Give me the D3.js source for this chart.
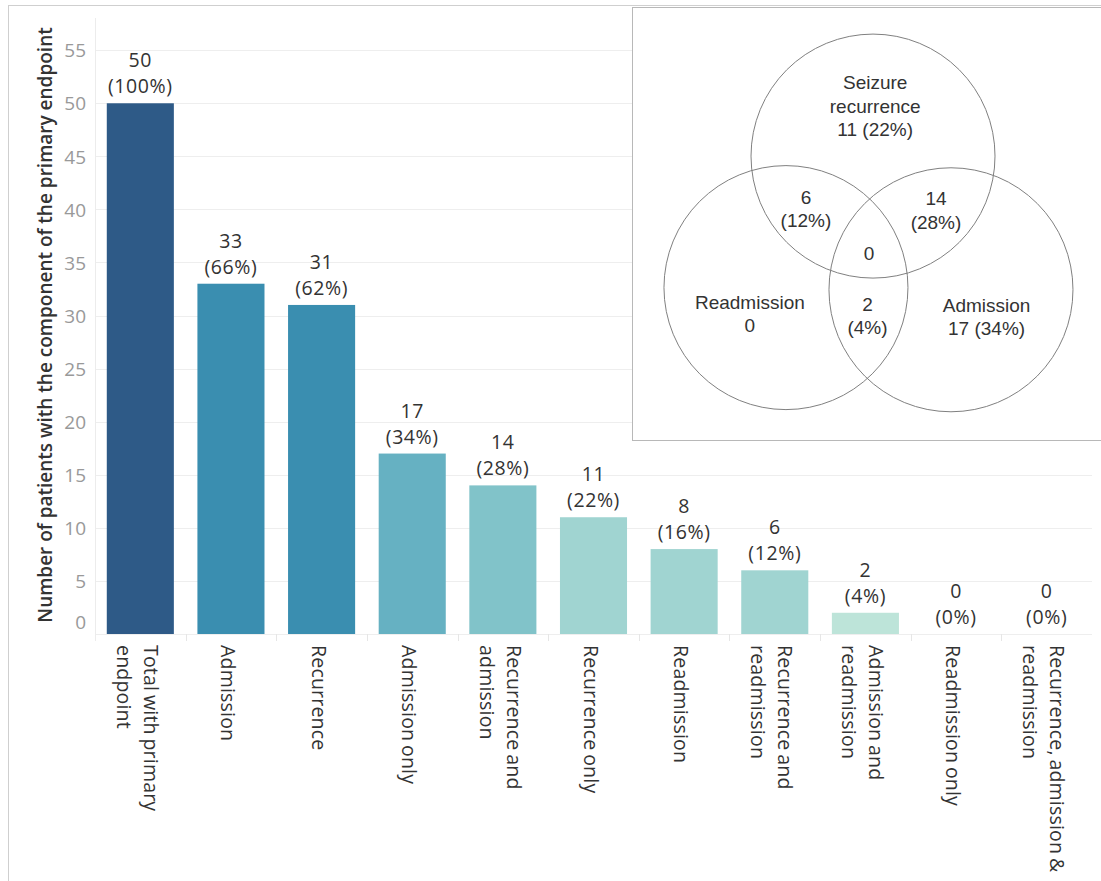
<!DOCTYPE html>
<html>
<head>
<meta charset="utf-8">
<script src="https://cdn.jsdelivr.net/npm/d3@7"></script>
<style>
  body { margin: 0; background: #fff; }
  svg { display: block; }
</style>
</head>
<body>
<svg id="chart" width="1101" height="881"></svg>
<script>
// ---- Bar chart data ----
const categories = [
  "Total with primary endpoint",
  "Admission",
  "Recurrence",
  "Admission only",
  "Recurrence and admission",
  "Recurrence only",
  "Readmission",
  "Recurrence and readmission",
  "Admission and readmission",
  "Readmission only",
  "Recurrence, admission & readmission"
];
const patientCounts = [50, 33, 31, 17, 14, 11, 8, 6, 2, 0, 0];
const patientPercents = [100, 66, 62, 34, 28, 22, 16, 12, 4, 0, 0];
const yTickValues = [0, 5, 10, 15, 20, 25, 30, 35, 40, 45, 50, 55];
const yTitle = "Number of patients with the component of the primary endpoint";

// ---- Venn diagram data ----
const vennSetNames = ["Seizure recurrence", "Readmission", "Admission"];
const vennOnlyCounts = [11, 0, 17];
// pairs listed as [setA, setB]
const vennPairs = [[0, 1], [0, 2], [1, 2]];
const vennPairCounts = [6, 14, 2];
const vennTripleCount = 0;
const totalPatients = 50;

// ---- Styling / layout ----
const W = 1101, H = 881;
const barFont = "'Open Sans', sans-serif";
const vennFont = "'Liberation Sans', Arial, sans-serif";
const textColor = "#333";

const svg = d3.select("#chart");

// outer frame
svg.append("line").attr("x1", 8.5).attr("x2", 8.5).attr("y1", 5).attr("y2", H)
  .attr("stroke", "#cfcfcf");
svg.append("line").attr("x1", 8).attr("x2", W).attr("y1", 5.5).attr("y2", 5.5)
  .attr("stroke", "#cfcfcf");

const x = d3.scaleBand()
  .domain(categories)
  .range([95, 1092])
  .paddingInner(0.26)
  .paddingOuter(0.13);

const y = d3.scaleLinear()
  .domain([0, 55])
  .range([634, 50.2]);

const color = d3.scaleThreshold()
  .domain([4, 12, 16, 25, 40])
  .range(["#bde4d9", "#a0d4d1", "#81c3c9", "#66b1c2", "#3a8eb0", "#2e5a87"]);

// gridlines
svg.append("g")
  .selectAll("line")
  .data(yTickValues)
  .join("line")
  .attr("x1", 95).attr("x2", 1092)
  .attr("y1", d => Math.round(y(d)) + 0.5)
  .attr("y2", d => Math.round(y(d)) + 0.5)
  .attr("stroke", "#eeeeee");

// y axis line
svg.append("line").attr("x1", 95.5).attr("x2", 95.5).attr("y1", 18).attr("y2", 641)
  .attr("stroke", "#ececec");

// category dividers under the axis
const step = x.step();
svg.append("g")
  .selectAll("line")
  .data(d3.range(1, categories.length))
  .join("line")
  .attr("x1", i => Math.round(95 + i * step) + 0.5)
  .attr("x2", i => Math.round(95 + i * step) + 0.5)
  .attr("y1", 634).attr("y2", 641)
  .attr("stroke", "#e6e6e6");

// y axis ticks
const yAxis = d3.axisLeft(y).tickValues(yTickValues).tickSize(0).tickPadding(9);
const yAxisG = svg.append("g").attr("transform", "translate(95,0)").call(yAxis);
yAxisG.select(".domain").remove();
yAxisG.selectAll("text")
  .attr("font-family", barFont)
  .attr("font-size", 19)
  .attr("fill", "#999")
  .attr("dy", "0.35em")
  .filter(d => d === 0)
  .attr("dy", "-0.28em");

// y title
svg.append("text")
  .attr("transform", "translate(52,325) rotate(-90)")
  .attr("text-anchor", "middle")
  .attr("font-family", barFont)
  .attr("font-weight", 600)
  .attr("font-size", 19)
  .attr("fill", textColor)
  .text(yTitle);

const rows = categories.map((c, i) => ({ cat: c, n: patientCounts[i], pct: patientPercents[i] }));

// bars
svg.append("g")
  .selectAll("rect")
  .data(rows.filter(d => d.n > 0))
  .join("rect")
  .attr("x", d => x(d.cat))
  .attr("width", x.bandwidth())
  .attr("y", d => y(d.n))
  .attr("height", d => y(0) - y(d.n))
  .attr("fill", d => color(d.n));

// value labels (count and percentage)
const vl = svg.append("g")
  .selectAll("text")
  .data(rows)
  .join("text")
  .attr("text-anchor", "middle")
  .attr("font-family", barFont)
  .attr("font-size", 19.5)
  .attr("letter-spacing", 0.6)
  .attr("fill", textColor)
  .attr("transform", d => `translate(${x(d.cat) + x.bandwidth() / 2},${y(d.n) - 10})`);
vl.append("tspan").attr("x", 0).attr("y", -26).text(d => d.n);
vl.append("tspan").attr("x", 0).attr("y", 0).text(d => `(${d.pct}%)`);

// word wrap helper using measured widths
function wrapWords(text, maxWidth, font, size, spacing) {
  const probe = svg.append("text").attr("font-family", font).attr("font-size", size)
    .attr("letter-spacing", spacing || 0).attr("visibility", "hidden");
  const words = text.split(" ");
  const lines = [];
  let cur = "";
  for (const w of words) {
    const trial = cur ? cur + " " + w : w;
    probe.text(trial);
    if (cur && probe.node().getComputedTextLength() > maxWidth) {
      lines.push(cur);
      cur = w;
    } else {
      cur = trial;
    }
  }
  if (cur) lines.push(cur);
  probe.remove();
  return lines;
}

// x category labels, rotated to read downward
const xLabelSize = 19.5;
const xLabelSpacing = 0.2;
const xLineGap = 27;
categories.forEach(c => {
  const lines = wrapWords(c, 235, barFont, xLabelSize, xLabelSpacing);
  const cx = x(c) + x.bandwidth() / 2 - 3;
  const t = svg.append("text")
    .attr("transform", `translate(${cx},645) rotate(90)`)
    .attr("font-family", barFont)
    .attr("font-size", xLabelSize)
    .attr("letter-spacing", xLabelSpacing)
    .attr("word-spacing", -1.5)
    .attr("fill", textColor)
    .attr("text-anchor", "start");
  lines.forEach((ln, i) => {
    t.append("tspan")
      .attr("x", 0)
      .attr("y", (i - (lines.length - 1) / 2) * xLineGap)
      .attr("dy", "0.35em")
      .text(ln);
  });
});

// ---- Venn inset ----
svg.append("rect")
  .attr("x", 632.5).attr("y", 7.5)
  .attr("width", W - 632).attr("height", 433)
  .attr("fill", "#fff")
  .attr("stroke", "#b8b8b8");

const vennCenter = { x: 869, y: 248 };
const vennSpread = 92;     // distance from diagram centre to each circle centre
const vennRadius = 122;
const vennAngles = [-87.5, 154.5, 27];
const circles = vennSetNames.map((name, i) => {
  const a = vennAngles[i] * Math.PI / 180;
  return {
    name,
    x: vennCenter.x + vennSpread * Math.cos(a),
    y: vennCenter.y + vennSpread * Math.sin(a),
    ux: Math.cos(a), uy: Math.sin(a)
  };
});

const vg = svg.append("g");
vg.selectAll("circle")
  .data(circles)
  .join("circle")
  .attr("cx", d => d.x).attr("cy", d => d.y).attr("r", vennRadius)
  .attr("fill", "none")
  .attr("stroke", "#808080")
  .attr("stroke-width", 1);

const pctText = n => `${Math.round(n / totalPatients * 100)}%`;
const vennLineH = 23.5;
const vennSize = 19;

function vennLabel(px, py, lines) {
  const t = vg.append("text")
    .attr("text-anchor", "middle")
    .attr("font-family", vennFont)
    .attr("font-size", vennSize)
    .attr("fill", textColor);
  lines.forEach((ln, i) => {
    t.append("tspan")
      .attr("x", px)
      .attr("y", py + (i - (lines.length - 1) / 2) * vennLineH)
      .attr("dy", "0.35em")
      .text(ln);
  });
}

// single-set regions
circles.forEach((c, i) => {
  const n = vennOnlyCounts[i];
  const nameLines = wrapWords(c.name, 125, vennFont, vennSize);
  const countLine = n > 0 ? `${n} (${pctText(n)})` : `${n}`;
  const lines = nameLines.concat([countLine]);
  // label block sits outward from the circle centre
  const off = i === 0 ? 50 : 40;
  const bx = c.x + c.ux * off;
  const by = c.y + c.uy * off + (i === 0 ? 0 : 9);
  vennLabel(bx, by, lines);
});

// pairwise overlaps
vennPairs.forEach((p, k) => {
  const a = circles[p[0]], b = circles[p[1]];
  const third = circles[3 - p[0] - p[1]];
  const mx = (a.x + b.x) / 2, my = (a.y + b.y) / 2;
  const dx = mx - third.x, dy = my - third.y;
  const len = Math.hypot(dx, dy);
  const n = vennPairCounts[k];
  vennLabel(mx + dx / len * 27, my + dy / len * 27, [`${n}`, `(${pctText(n)})`]);
});

// triple overlap
vennLabel(vennCenter.x, vennCenter.y + 5, [`${vennTripleCount}`]);
</script>
</body>
</html>
